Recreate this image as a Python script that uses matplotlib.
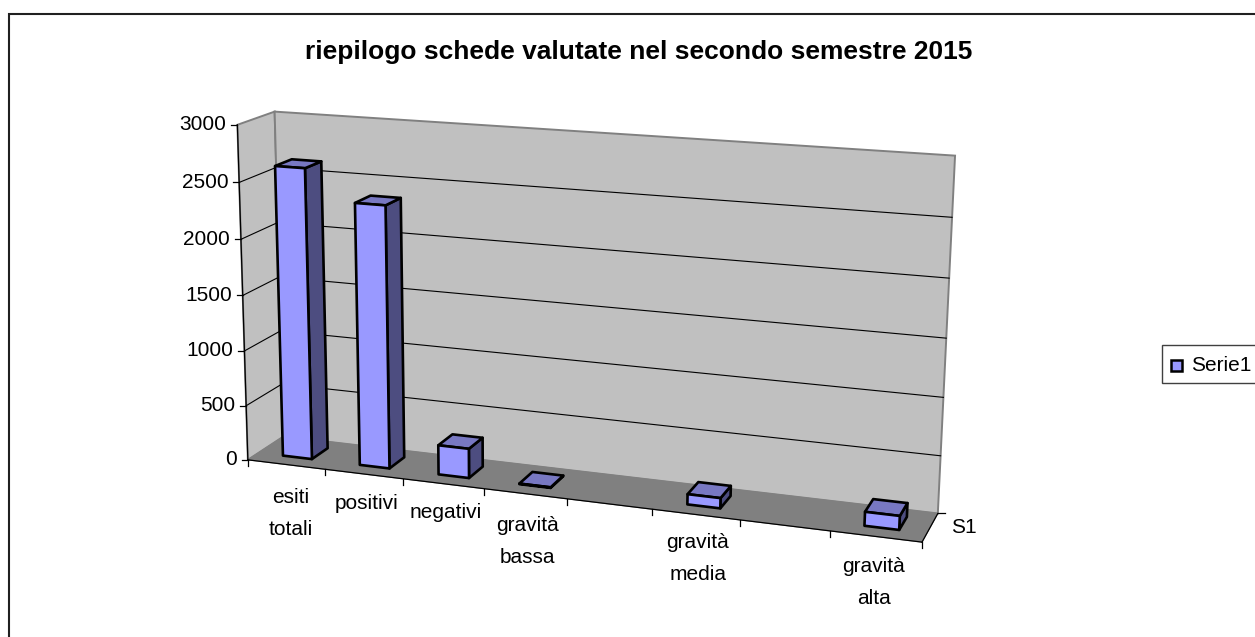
import numpy as np
import matplotlib
matplotlib.use('Agg')
import matplotlib.pyplot as plt
from matplotlib.patches import Polygon, Rectangle

plt.rcParams['font.family'] = ['Liberation Sans', 'DejaVu Sans']

#Chart data, blank categories have no bar
title = 'riepilogo schede valutate nel secondo semestre 2015'
categories = ['esiti\ntotali', 'positivi', 'negativi', 'gravità\nbassa', '', 'gravità\nmedia', '', 'gravità\nalta']
values = [2620, 2350, 265, 5, None, 90, None, 120]
y_ticks = [0, 500, 1000, 1500, 2000, 2500, 3000]
series_name = 'Serie1'
depth_label = 'S1'

#Pixel nudges for the category labels (the original places them unevenly)
label_dx = [5, 3, 2, 2, 0, 2, 0, -2]
label_dy = [49, 30, 29, 48, 0, 44, 0, 46]

FRONT = '#9999FF'
TOP = '#7878C2'
SIDE = '#4D4D80'
WALL = '#C0C0C0'
FLOOR = '#808080'
FS = 15

#Fit the perspective of the box (category, depth, value) -> pixel
world = [(0, 0, 0), (0, 0, 3000), (0, 1, 0), (0, 1, 3000), (8, 0, 0), (8, 1, 0), (8, 1, 3000),
         (1, 0, 0), (2, 0, 0), (3, 0, 0), (4, 0, 0), (5, 0, 0), (6, 0, 0), (7, 0, 0)]
pixels = [(248, 458), (236, 125), (282, 438), (276, 112), (921, 541.5), (938, 512), (955, 155),
          (326, 468), (403, 478), (485, 489), (567, 500), (653, 510), (740, 521), (830, 532)]
rows = []
rhs = []
for (u, d, z), (px, py) in zip(world, pixels):
    z = z / 3000
    rows.append([u, d, z, 1, 0, 0, 0, 0, -px * u, -px * d, -px * z])
    rhs.append(px)
    rows.append([0, 0, 0, 0, u, d, z, 1, -py * u, -py * d, -py * z])
    rhs.append(py)
cam = np.linalg.lstsq(np.array(rows), np.array(rhs), rcond=None)[0]


def project(u, d, z):
    z = z / 3000
    w = cam[8] * u + cam[9] * d + cam[10] * z + 1
    return ((cam[0] * u + cam[1] * d + cam[2] * z + cam[3]) / w,
            (cam[4] * u + cam[5] * d + cam[6] * z + cam[7]) / w)


fig = plt.figure(figsize=(12.55, 6.37), dpi=100)
ax = fig.add_axes([0, 0, 1, 1])
ax.set_xlim(0, 1255)
ax.set_ylim(637, 0)
ax.axis('off')

#Outer frame runs off the right and bottom of the picture
ax.add_patch(Rectangle((9, 13.5), 1300, 700, fc='white', ec='#202020', lw=1.5))
ax.add_patch(Rectangle((1162, 345), 100, 38, fc='white', ec='#404040', lw=1.0))
ax.add_patch(Rectangle((1170.5, 360), 11, 11, fc=FRONT, ec='black', lw=1.8))
ax.text(1191, 365.5, series_name, fontsize=FS, ha='left', va='center')
ax.text(638.5, 52, title, fontsize=19, fontweight='bold', ha='center', va='center')

#Walls and floor
n = len(categories)
top = y_ticks[-1]
ax.add_patch(Polygon([project(0, 0, 0), project(0, 0, top), project(0, 1, top), project(0, 1, 0)],
                     fc=WALL, ec=FLOOR, lw=1.4))
ax.add_patch(Polygon([project(0, 1, 0), project(0, 1, top), project(n, 1, top), project(n, 1, 0)],
                     fc=WALL, ec=FLOOR, lw=1.4))
ax.add_patch(Polygon([project(0, 0, 0), project(0, 1, 0), project(n, 1, 0), project(n, 0, 0)],
                     fc=FLOOR, ec=FLOOR, lw=0.8))

#Gridlines
for t in y_ticks[1:-1]:
    a, b, c = project(0, 0, t), project(0, 1, t), project(n, 1, t)
    ax.plot([a[0], b[0], c[0]], [a[1], b[1], c[1]], color='black', lw=0.8)

#Axis lines, ticks and tick labels
a, b = project(0, 0, 0), project(0, 0, top)
ax.plot([a[0], b[0]], [a[1], b[1]], color='black', lw=0.9)
a, b = project(0, 0, 0), project(n, 0, 0)
ax.plot([a[0], b[0]], [a[1], b[1]], color='black', lw=0.9)
a, b = project(n, 0, 0), project(n, 1, 0)
ax.plot([a[0], b[0]], [a[1], b[1]], color='black', lw=0.9)
ax.plot([b[0], b[0] + 7], [b[1], b[1]], color='black', lw=0.9)
ax.text(b[0] + 13, b[1] + 14, depth_label, fontsize=FS, ha='left', va='center')
for t in y_ticks:
    a = project(0, 0, t)
    ax.plot([a[0] - 6, a[0]], [a[1], a[1]], color='black', lw=0.9)
    ax.text(a[0] - 11, a[1], str(t), fontsize=FS, ha='right', va='center')
for i in range(n + 1):
    a = project(i, 0, 0)
    ax.plot([a[0], a[0]], [a[1], a[1] + 6], color='black', lw=0.9)
for i, name in enumerate(categories):
    if name:
        a = project(i + 0.5, 0, 0)
        ax.text(a[0] + label_dx[i], a[1] + label_dy[i], name, fontsize=FS, ha='center', va='center',
                linespacing=1.85)

#Bars, faces drawn back to front
for i, v in enumerate(values):
    if v is None:
        continue
    u0, u1 = i + 0.32, i + 0.7
    d0, d1 = 0.3, 0.76
    ax.add_patch(Polygon([project(u1, d0, 0), project(u1, d1, 0), project(u1, d1, v), project(u1, d0, v)],
                         fc=SIDE, ec='black', lw=1.9, joinstyle='round', zorder=3))
    ax.add_patch(Polygon([project(u0, d0, v), project(u1, d0, v), project(u1, d1, v), project(u0, d1, v)],
                         fc=TOP, ec='black', lw=1.9, joinstyle='round', zorder=3))
    ax.add_patch(Polygon([project(u0, d0, 0), project(u1, d0, 0), project(u1, d0, v), project(u0, d0, v)],
                         fc=FRONT, ec='black', lw=1.9, joinstyle='round', zorder=3))

fig.savefig('out.png', dpi=100)
